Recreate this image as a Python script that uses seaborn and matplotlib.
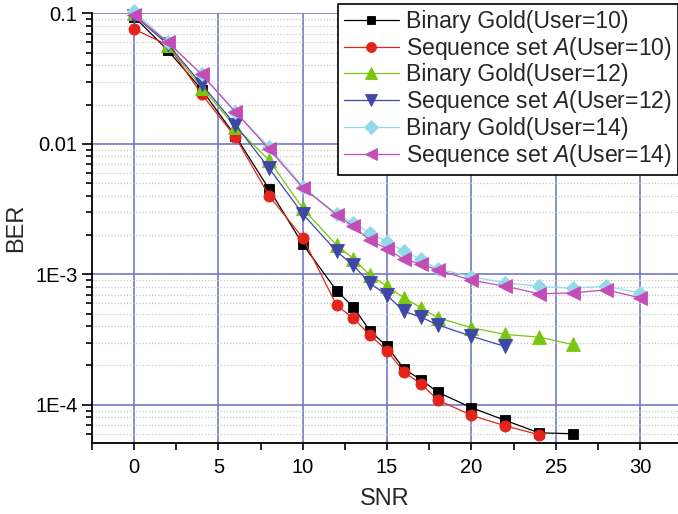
import matplotlib
matplotlib.use("Agg")
import matplotlib.pyplot as plt
import matplotlib.ticker as mticker
import seaborn as sns

# SNR sample points for each curve
snr_gold10 = [0, 2, 4, 6, 8, 10, 12, 13, 14, 15, 16, 17, 18, 20, 22, 24, 26]
snr_seqa10 = [0, 2, 4, 6, 8, 10, 12, 13, 14, 15, 16, 17, 18, 20, 22, 24]
snr_gold12 = [0, 2, 4, 6, 8, 10, 12, 13, 14, 15, 16, 17, 18, 20, 22, 24, 26]
snr_seqa12 = [0, 2, 4, 6, 8, 10, 12, 13, 14, 15, 16, 17, 18, 20, 22]
snr_gold14 = [0, 2, 4, 6, 8, 10, 12, 13, 14, 15, 16, 17, 18, 20, 22, 24, 26, 28, 30]
snr_seqa14 = [0, 2, 4, 6, 8, 10, 12, 13, 14, 15, 16, 17, 18, 20, 22, 24, 26, 28, 30]

# Bit error rates
ber_gold10 = [0.094, 0.052, 0.026, 0.0115, 0.0045, 0.0017, 7.5e-4, 5.6e-4, 3.66e-4,
              2.8e-4, 1.88e-4, 1.56e-4, 1.25e-4, 9.5e-5, 7.6e-5, 6.1e-5, 6.0e-5]
ber_seqa10 = [0.0757, 0.057, 0.024, 0.0113, 0.0040, 0.0019, 5.8e-4, 4.6e-4, 3.4e-4,
              2.6e-4, 1.78e-4, 1.45e-4, 1.09e-4, 8.3e-5, 6.9e-5, 5.9e-5]
ber_gold12 = [0.1, 0.057, 0.027, 0.0135, 0.0075, 0.0032, 1.67e-3, 1.32e-3, 9.8e-4,
              8.1e-4, 6.6e-4, 5.55e-4, 4.65e-4, 3.9e-4, 3.46e-4, 3.3e-4, 2.9e-4]
ber_seqa12 = [0.096, 0.058, 0.0286, 0.014, 0.0065, 0.0029, 1.5e-3, 1.17e-3, 8.5e-4,
              6.9e-4, 5.2e-4, 4.7e-4, 4.1e-4, 3.35e-4, 2.8e-4]
ber_gold14 = [0.104, 0.060, 0.034, 0.0175, 0.0095, 0.0047, 2.9e-3, 2.47e-3, 2.07e-3,
              1.77e-3, 1.5e-3, 1.3e-3, 1.1e-3, 9.6e-4, 8.6e-4, 8.1e-4, 7.8e-4, 8.1e-4, 7.2e-4]
ber_seqa14 = [0.097, 0.060, 0.034, 0.0176, 0.0091, 0.0046, 2.86e-3, 2.33e-3, 1.82e-3,
              1.57e-3, 1.3e-3, 1.2e-3, 1.08e-3, 9.0e-4, 8.1e-4, 7.1e-4, 7.2e-4, 7.6e-4, 6.6e-4]

series_labels = [
    "Binary Gold(User=10)",
    "Sequence set $\\mathit{A}$(User=10)",
    "Binary Gold(User=12)",
    "Sequence set $\\mathit{A}$(User=12)",
    "Binary Gold(User=14)",
    "Sequence set $\\mathit{A}$(User=14)",
]

x_ticks = [0, 5, 10, 15, 20, 25, 30]
y_ticks = [1e-4, 1e-3, 1e-2, 1e-1]
y_tick_labels = ["1E-4", "1E-3", "0.01", "0.1"]

sns.set_style("white")
plt.rcParams["font.family"] = ["Liberation Sans", "DejaVu Sans"]
plt.rcParams["mathtext.fontset"] = "custom"
plt.rcParams["mathtext.rm"] = "Liberation Sans"
plt.rcParams["mathtext.it"] = "Liberation Sans:italic"

fig = plt.figure(figsize=(6.78, 5.14), dpi=100)
ax = fig.add_axes([92 / 678, 1 - 442.5 / 514, 1 - 92 / 678, (442.5 - 13.3) / 514])

styles = [
    (snr_gold10, ber_gold10, "#000000", "s", 7.0),
    (snr_seqa10, ber_seqa10, "#e3241b", "o", 8.0),
    (snr_gold12, ber_gold12, "#79c610", "^", 9.5),
    (snr_seqa12, ber_seqa12, "#3e47a8", "v", 9.5),
    (snr_gold14, ber_gold14, "#93d9ec", "D", 7.5),
    (snr_seqa14, ber_seqa14, "#c44cb6", "<", 9.5),
]

for (xs, ys, col, mk, ms), lab in zip(styles, series_labels):
    sns.lineplot(x=xs, y=ys, ax=ax, color=col, marker=mk, markersize=ms,
                 markeredgecolor=col, markeredgewidth=0.6, linewidth=0.9,
                 label=lab, clip_on=False, zorder=3)

ax.set_yscale("log")
ax.set_xlim(-2.5, 32.25)
ax.set_ylim(5.14e-5, 0.1)

ax.xaxis.set_major_locator(mticker.FixedLocator(x_ticks))
ax.xaxis.set_minor_locator(mticker.FixedLocator([t + 2.5 for t in x_ticks[:-1]] + [-2.5, 32.5]))
ax.yaxis.set_major_locator(mticker.FixedLocator(y_ticks))
ax.yaxis.set_major_formatter(mticker.FixedFormatter(y_tick_labels))
ax.yaxis.set_minor_locator(mticker.LogLocator(base=10, subs=range(2, 10)))
ax.yaxis.set_minor_formatter(mticker.NullFormatter())

ax.grid(True, which="major", color="#7178c6", linewidth=1.2, linestyle="-", zorder=0)
ax.grid(True, which="minor", axis="y", color="#c8c8c8", linewidth=0.9,
        linestyle=(0, (1, 1.5)), zorder=0)
ax.set_axisbelow(True)

for side in ["top", "right"]:
    ax.spines[side].set_visible(False)
for side in ["left", "bottom"]:
    ax.spines[side].set_color("black")
    ax.spines[side].set_linewidth(1.3)

ax.tick_params(axis="both", which="both", direction="out", colors="black",
               width=1.2, labelsize=14.5)
ax.tick_params(axis="y", which="major", length=7, left=True)
ax.tick_params(axis="y", which="minor", length=4, left=True)
ax.tick_params(axis="x", which="major", length=5, bottom=True, pad=6)
ax.tick_params(axis="x", which="minor", length=5, bottom=True)

ax.set_xlabel("SNR", fontsize=17, labelpad=8)
ax.set_ylabel("BER", fontsize=17, labelpad=6)

leg = ax.legend(loc="upper left", bbox_to_anchor=(338 / 678, 1 - 4 / 514),
                bbox_transform=fig.transFigure, borderaxespad=0, fontsize=16.6,
                frameon=True, fancybox=False, edgecolor="black", framealpha=1,
                handlelength=2.4, handletextpad=0.3, labelspacing=0.08,
                borderpad=0.25, markerscale=0.9)
leg.get_frame().set_linewidth(1.2)

fig.savefig("out.png", dpi=100)
